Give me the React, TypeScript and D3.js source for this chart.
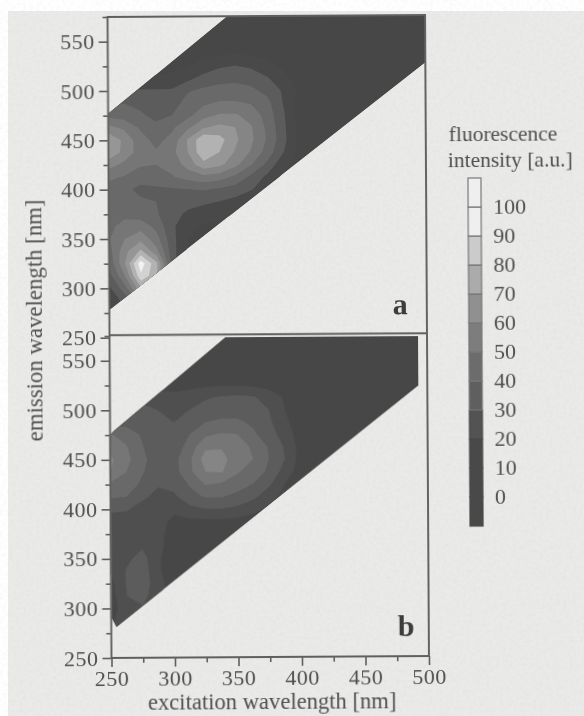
import React, { useEffect, useRef } from "react";
import * as d3 from "d3";

// grid the intensities were read on (nm)
const excitationGrid = [250, 262.5, 275, 287.5, 300, 312.5, 325, 337.5, 350, 362.5, 375, 387.5, 400];
const emissionGrid = [550, 537.5, 525, 512.5, 500, 487.5, 475, 462.5, 450, 437.5, 425, 412.5, 400, 387.5, 375, 362.5, 350, 337.5, 325, 312.5, 300, 287.5, 275];

const intensityA = [
  [5, 5, 5, 5, 5, 5, 5, 5, 5, 5, 5, 5, 5],
  [5, 5, 5, 5, 5, 5, 7, 8, 9, 8, 7, 5, 5],
  [5, 5, 5, 5, 6, 9, 14, 18, 20, 18, 13, 8, 5],
  [8, 10, 12, 12, 13, 17, 23, 27, 28, 26, 21, 13, 6],
  [15, 18, 21, 21, 21, 29, 32, 33, 33, 32, 27, 19, 8],
  [26, 30, 27, 24, 26, 33, 38, 41, 41, 39, 33, 20, 7],
  [37, 36, 32, 27, 30, 37, 46, 51, 51, 46, 36, 22, 7],
  [54, 48, 39, 33, 38, 48, 59, 63, 60, 51, 38, 23, 7],
  [68, 58, 44, 37, 43, 61, 78, 74, 62, 52, 39, 24, 7],
  [68, 57, 45, 41, 47, 60, 78, 70, 59, 49, 36, 21, 7],
  [54, 47, 41, 40, 44, 54, 67, 63, 53, 41, 28, 13, 6],
  [42, 39, 35, 37, 39, 44, 47, 45, 38, 28, 18, 8, 5],
  [36, 33, 27, 28, 29, 30, 31, 29, 26, 21, 14, 6, 5],
  [38, 36, 32, 30, 26, 24, 22, 20, 17, 12, 8, 5, 5],
  [38, 38, 35, 31, 24, 18, 15, 13, 10, 8, 6, 5, 5],
  [38, 43, 46, 37, 22, 12, 9, 7, 6, 5, 5, 5, 5],
  [39, 50, 57, 44, 23, 10, 7, 6, 5, 5, 5, 5, 5],
  [36, 57, 72, 53, 24, 8, 6, 5, 5, 5, 5, 5, 5],
  [32, 60, 96, 72, 24, 7, 5, 5, 5, 5, 5, 5, 5],
  [26, 50, 88, 72, 22, 6, 5, 5, 5, 5, 5, 5, 5],
  [18, 36, 68, 50, 16, 5, 5, 5, 5, 5, 5, 5, 5],
  [12, 24, 44, 30, 10, 5, 5, 5, 5, 5, 5, 5, 5],
  [8, 14, 25, 16, 8, 5, 5, 5, 5, 5, 5, 5, 5],
];

const intensityB = [
  [4, 4, 4, 4, 4, 4, 4, 4, 4, 4, 4, 4, 4],
  [4, 4, 4, 4, 4, 4, 5, 5, 5, 5, 4, 4, 4],
  [4, 4, 4, 5, 5, 6, 8, 9, 9, 8, 6, 5, 4],
  [10, 14, 18, 18, 14, 17, 19, 21, 22, 21, 16, 9, 5],
  [16, 20, 22, 20, 17, 20, 23, 25, 25, 24, 20, 10, 5],
  [24, 27, 25, 20, 20, 26, 30, 32, 32, 28, 22, 12, 5],
  [41, 36, 29, 21, 21, 30, 38, 41, 40, 32, 24, 16, 5],
  [47, 41, 31, 22, 23, 35, 48, 49, 43, 39, 29, 19, 6],
  [52, 43, 33, 24, 27, 38, 55, 54, 44, 40, 30, 20, 6],
  [50, 40, 31, 24, 26, 38, 50, 51, 41, 36, 28, 16, 5],
  [38, 36, 28, 21, 24, 31, 41, 39, 36, 30, 22, 10, 5],
  [31, 30, 22, 17, 18, 27, 31, 31, 27, 23, 14, 7, 5],
  [22, 21, 16, 14, 12, 17, 20, 20, 18, 13, 8, 5, 5],
  [15, 15, 14, 13, 8, 8, 8, 8, 7, 6, 5, 5, 5],
  [15, 15, 15, 12, 7, 6, 5, 5, 5, 5, 5, 5, 5],
  [16, 17, 19, 12, 6, 5, 5, 5, 5, 5, 5, 5, 5],
  [14, 18, 24, 11, 5, 5, 5, 5, 5, 5, 5, 5, 5],
  [11, 21, 26, 11, 5, 5, 5, 5, 5, 5, 5, 5, 5],
  [7, 21, 26, 13, 5, 5, 5, 5, 5, 5, 5, 5, 5],
  [6, 20, 24, 12, 5, 5, 5, 5, 5, 5, 5, 5, 5],
  [7, 14, 19, 10, 5, 5, 5, 5, 5, 5, 5, 5, 5],
  [9, 14, 15, 8, 5, 5, 5, 5, 5, 5, 5, 5, 5],
  [8, 12, 12, 7, 5, 5, 5, 5, 5, 5, 5, 5, 5],
];

// measured region of each panel, [excitation, emission]
const regionA = [[250, 278], [500, 527], [500, 575], [344, 575], [250, 477]];
const regionB = [[250, 291], [254, 281], [493, 523], [493, 573], [341, 573], [253, 479], [250, 475]];

const levels = [10, 20, 30, 40, 50, 60, 70, 80, 90];
const levelColorsA = ["#494949", "#5b5b5b", "#696969", "#767676", "#858585", "#969696", "#b2b2b2", "#d2d2d2", "#f2f2f2"];
const levelColorsB = ["#4f4f4f", "#5b5b5b", "#696969", "#767676", "#858585", "#969696", "#b2b2b2", "#d2d2d2", "#f2f2f2"];
const baseColor = "#474747";

const legendBottoms = [-10, 0, 10, 20, 30, 40, 50, 60, 70, 80, 90, 100];
const legendColors = ["#484848", "#484848", "#4a4a4a", "#525252", "#5e5e5e", "#6c6c6c", "#7d7d7d", "#909090", "#ababab", "#cbcbcb", "#efefef", "#efefef"];
const legendTicks = [0, 10, 20, 30, 40, 50, 60, 70, 80, 90, 100];

const majorTicks = [250, 300, 350, 400, 450, 500, 550];
const minorEmission = [275, 325, 375, 425, 475, 525, 575];
const minorExcitation = [275, 325, 375, 425, 475];
const xMajorTicks = [250, 300, 350, 400, 450, 500];

const inkColor = "#4f4f4f";
const lineColor = "#5f5f5f";
const serif = "'Liberation Serif', serif";

export default function App() {
  const ref = useRef<SVGSVGElement>(null);

  useEffect(() => {
    const svg = d3.select(ref.current);
    svg.selectAll("*").remove();

    const defs = svg.append("defs");
    const soft = defs.append("filter").attr("id", "soft").attr("x", "-5%").attr("y", "-5%").attr("width", "110%").attr("height", "110%");
    soft.append("feGaussianBlur").attr("stdDeviation", 0.55);

    const grain = defs.append("filter").attr("id", "grain");
    grain.append("feTurbulence").attr("type", "fractalNoise").attr("baseFrequency", 0.3).attr("numOctaves", 3).attr("seed", 4);
    grain.append("feColorMatrix").attr("values", "0 0 0 0 0.45  0 0 0 0 0.45  0 0 0 0 0.45  0 0 0 0.5 -0.19");

    // scanned page
    svg.append("rect").attr("x", 8).attr("y", 11).attr("width", 576).attr("height", 705).attr("fill", "#eaeae8");
    svg.append("rect").attr("x", 8).attr("y", 11).attr("width", 576).attr("height", 705).attr("filter", "url(#grain)").attr("opacity", 0.35);

    const page = svg.append("g").attr("filter", "url(#soft)");
    const chart = page.append("g").attr("transform", "rotate(-0.35 268 336)");

    const xScale = d3.scaleLinear().domain([250, 500]).range([109.5, 427]);
    const yScaleA = d3.scaleLinear().domain([250, 575]).range([336.7, 16]);
    const yScaleB = d3.scaleLinear().domain([250, 575]).range([657, 335]);

    const contours = d3.contours().size([excitationGrid.length, emissionGrid.length]).thresholds(levels);
    const exAt = d3.scaleLinear().domain([0.5, excitationGrid.length - 0.5]).range([excitationGrid[0], excitationGrid[excitationGrid.length - 1]]);
    const emAt = d3.scaleLinear().domain([0.5, emissionGrid.length - 0.5]).range([emissionGrid[0], emissionGrid[emissionGrid.length - 1]]);

    const drawPanel = (id: string, rows: number[][], region: number[][], colors: string[], yScale: d3.ScaleLinear<number, number>, mark: string, markX: number, markY: number) => {
      const outline = d3.line<number[]>().x(d => xScale(d[0])).y(d => yScale(d[1])).curve(d3.curveLinearClosed)(region);

      defs.append("clipPath").attr("id", id).append("path").attr("d", outline);

      const panel = chart.append("g");
      const field = panel.append("g").attr("clip-path", `url(#${id})`);
      field.append("path").attr("d", outline).attr("fill", baseColor);

      const toPixels = d3.geoTransform({
        point(x, y) {
          this.stream.point(xScale(exAt(x)), yScale(emAt(y)));
        },
      });
      const path = d3.geoPath(toPixels);

      field.selectAll("path.band")
        .data(contours(rows.flat()))
        .enter()
        .append("path")
        .attr("class", "band")
        .attr("d", d => path(d))
        .attr("fill", (d, i) => colors[i]);

      panel.append("text")
        .attr("x", markX)
        .attr("y", markY)
        .attr("font-family", serif)
        .attr("font-weight", "bold")
        .attr("font-size", 30)
        .attr("fill", "#3c3c3c")
        .text(mark);

      // y axis
      const yAxis = panel.append("g").attr("transform", `translate(${xScale(250)},0)`)
        .call(d3.axisLeft(yScale).tickValues(majorTicks).tickSize(9).tickPadding(4).tickFormat(d3.format("d")));
      const yMinor = panel.append("g").attr("transform", `translate(${xScale(250)},0)`)
        .call(d3.axisLeft(yScale).tickValues(minorEmission).tickSize(5).tickFormat(() => ""));
      [yAxis, yMinor].forEach(g => {
        g.select(".domain").remove();
        g.selectAll("line").attr("stroke", lineColor).attr("stroke-width", 1.6);
      });
      yAxis.selectAll("text").attr("font-family", serif).attr("font-size", 22).attr("letter-spacing", 0.5).attr("fill", inkColor);
    };

    drawPanel("field-a", intensityA, regionA, levelColorsA, yScaleA, "a", 393, 315);
    drawPanel("field-b", intensityB, regionB, levelColorsB, yScaleB, "b", 396, 637);

    // panel frames
    chart.append("path")
      .attr("d", `M${xScale(250)},${yScaleA(575)}H${xScale(500)}V${yScaleB(250)}H${xScale(250)}Z`)
      .attr("fill", "none")
      .attr("stroke", lineColor)
      .attr("stroke-width", 1.9);
    chart.append("line")
      .attr("x1", xScale(250)).attr("x2", xScale(500))
      .attr("y1", 334.3).attr("y2", 334.3)
      .attr("stroke", lineColor)
      .attr("stroke-width", 1.9);

    // x axis
    const xAxis = chart.append("g").attr("transform", `translate(0,${yScaleB(250)})`)
      .call(d3.axisBottom(xScale).tickValues(xMajorTicks).tickSize(9).tickPadding(3).tickFormat(d3.format("d")));
    const xMinor = chart.append("g").attr("transform", `translate(0,${yScaleB(250)})`)
      .call(d3.axisBottom(xScale).tickValues(minorExcitation).tickSize(5).tickFormat(() => ""));
    [xAxis, xMinor].forEach(g => {
      g.select(".domain").remove();
      g.selectAll("line").attr("stroke", lineColor).attr("stroke-width", 1.6);
    });
    xAxis.selectAll("text").attr("font-family", serif).attr("font-size", 22).attr("letter-spacing", 0.5).attr("fill", inkColor);

    chart.append("text")
      .attr("x", 270)
      .attr("y", 709)
      .attr("text-anchor", "middle")
      .attr("font-family", serif)
      .attr("font-size", 22.6)
      .attr("fill", inkColor)
      .text("excitation wavelength [nm]");

    chart.append("text")
      .attr("transform", "translate(42,319) rotate(-90)")
      .attr("text-anchor", "middle")
      .attr("font-family", serif)
      .attr("font-size", 22.8)
      .attr("fill", inkColor)
      .text("emission wavelength [nm]");

    // legend
    const legendScale = d3.scaleLinear().domain([0, 100]).range([497, 207]);
    const legend = page.append("g").attr("transform", "rotate(-0.35 476 350)");

    legend.selectAll("rect")
      .data(legendBottoms)
      .enter()
      .append("rect")
      .attr("x", 469)
      .attr("width", 13)
      .attr("y", d => legendScale(d + 10))
      .attr("height", d => legendScale(d) - legendScale(d + 10))
      .attr("fill", (d, i) => legendColors[i])
      .attr("stroke", d => (d >= 30 ? "#777777" : "#4a4a4a"))
      .attr("stroke-width", 1.2);

    legend.selectAll("text.tick")
      .data(legendTicks)
      .enter()
      .append("text")
      .attr("class", "tick")
      .attr("x", 494)
      .attr("y", d => legendScale(d) + 7)
      .attr("font-family", serif)
      .attr("font-size", 22)
      .attr("fill", inkColor)
      .text(d => d);

    legend.append("text").attr("x", 450).attr("y", 141).attr("font-family", serif).attr("font-size", 21.5).attr("fill", inkColor).text("fluorescence");
    legend.append("text").attr("x", 449).attr("y", 167).attr("font-family", serif).attr("font-size", 21.5).attr("fill", inkColor).text("intensity [a.u.]");
  }, []);

  return (
    <svg ref={ref} width={584} height={716} style={{ position: "absolute", left: 0, top: 0 }}></svg>
  );
}
